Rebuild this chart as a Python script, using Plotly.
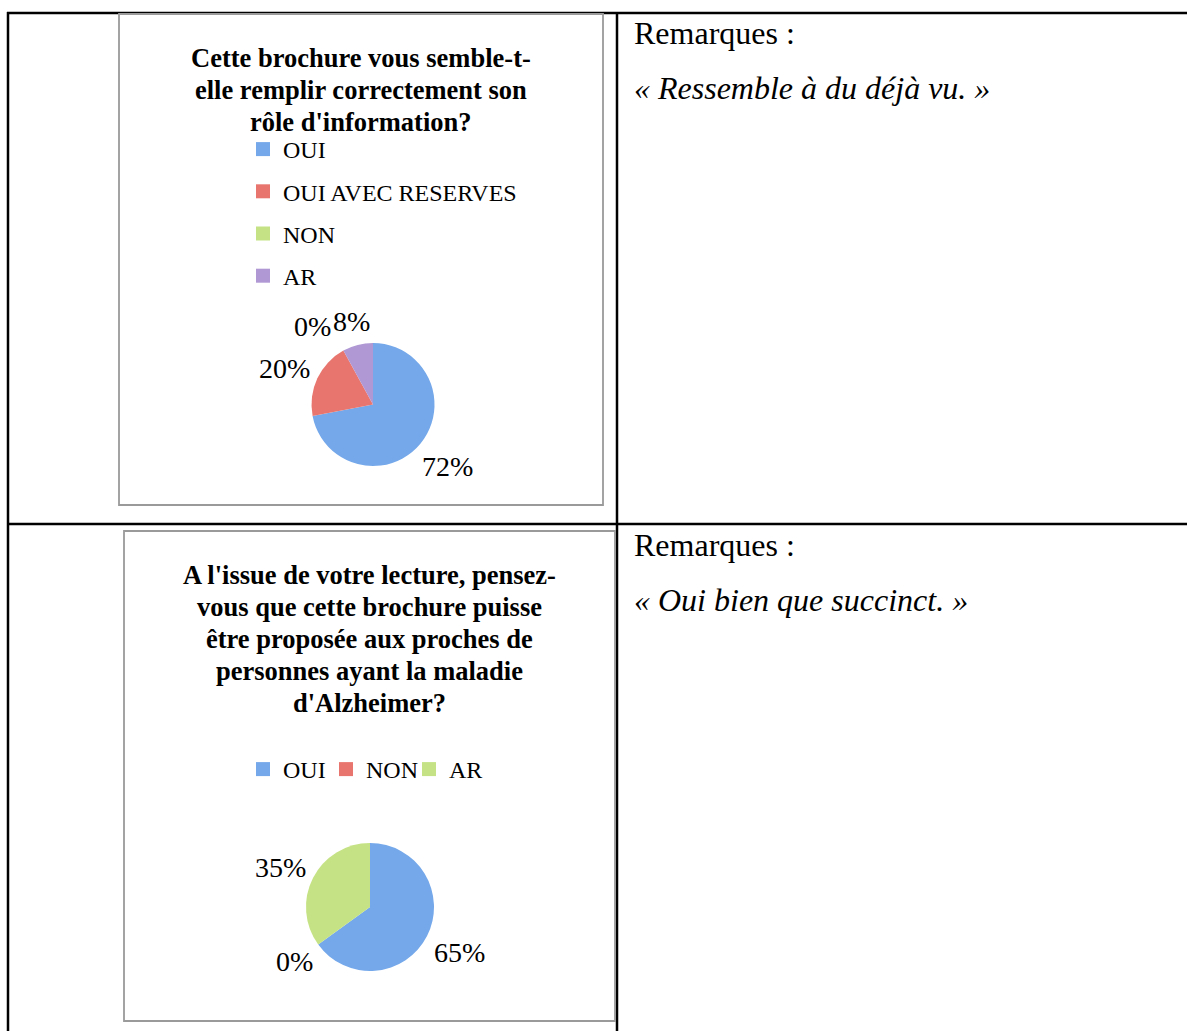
import math
import plotly.graph_objects as go

W, H = 1187, 1031

# ---- data ----
title1_lines = ["Cette brochure vous semble-t-", "elle remplir correctement son", "rôle d'information?"]
labels1 = ["OUI", "OUI AVEC RESERVES", "NON", "AR"]
values1 = [72, 20, 0, 8]

title2_lines = ["A l'issue de votre lecture, pensez-", "vous que cette brochure puisse",
                "être proposée aux proches de", "personnes ayant la maladie", "d'Alzheimer?"]
labels2 = ["OUI", "NON", "AR"]
values2 = [65, 0, 35]

remark_head = "Remarques :"
remark1 = "« Ressemble à du déjà vu. »"
remark2 = "« Oui bien que succinct. »"

palette = ["#74a8ea", "#e8766e", "#c5e384", "#af98d4"]

SERIF = "Liberation Serif"
LBL_SIZE = 28


def px(x):
    return x / W


def py(y):
    return 1 - y / H


def pie_label_annotations(cx, cy, r, values, size, pad=7):
    """Outside percentage labels placed at each slice's mid-angle (clockwise from 12 o'clock)."""
    total = float(sum(values))
    cum = 0.0
    items = []
    for v in values:
        mid = (cum + v / 2.0) / total * 2 * math.pi
        cum += v
        s, c = math.sin(mid), math.cos(mid)
        txt = "%d%%" % round(100 * v / total)
        hw = 0.31 * size * len(txt)
        hh = 0.48 * size
        d = r + pad + abs(s) * hw + abs(c) * hh
        # labels on the left side sit slightly below the radial line
        yoff = 0.45 * hh if s < -0.5 and c > 0 else 0
        items.append(dict(txt=txt, x=cx + d * s, y=cy - d * c + yoff, hw=hw, hh=hh))
    for i in range(len(items)):
        for j in range(i + 1, len(items)):
            a, b = items[i], items[j]
            if abs(a["x"] - b["x"]) < a["hw"] + b["hw"] and abs(a["y"] - b["y"]) < a["hh"] + b["hh"]:
                if a["x"] <= b["x"]:
                    a["x"] = b["x"] - a["hw"] - b["hw"] - 4
                else:
                    a["x"] = b["x"] + a["hw"] + b["hw"] + 4
    return [dict(text=it["txt"], x=px(it["x"]), y=py(it["y"]), xref="paper", yref="paper",
                 xanchor="center", yanchor="middle", showarrow=False,
                 font=dict(family=SERIF, size=size, color="#000")) for it in items]


fig = go.Figure()

c1x, c1y, r1 = 373, 404.5, 61.5
fig.add_trace(go.Pie(
    labels=labels1, values=values1, sort=False, direction="clockwise", rotation=0,
    marker=dict(colors=palette[:4], line=dict(width=0)),
    textinfo="none", showlegend=False, hoverinfo="label+percent",
    domain=dict(x=[px(c1x - r1), px(c1x + r1)], y=[py(c1y + r1), py(c1y - r1)]),
))

c2x, c2y, r2 = 370, 907, 64
fig.add_trace(go.Pie(
    labels=labels2, values=values2, sort=False, direction="clockwise", rotation=0,
    marker=dict(colors=palette[:3], line=dict(width=0)),
    textinfo="none", showlegend=False, hoverinfo="label+percent",
    domain=dict(x=[px(c2x - r2), px(c2x + r2)], y=[py(c2y + r2), py(c2y - r2)]),
))

for i, lab in enumerate(labels1):
    fig.add_trace(go.Scatter(x=[None], y=[None], mode="markers", name=lab,
                             marker=dict(symbol="square", size=14, color=palette[i]),
                             legend="legend", legendgroup="a" + lab, showlegend=True))
for i, lab in enumerate(labels2):
    fig.add_trace(go.Scatter(x=[None], y=[None], mode="markers", name=lab,
                             marker=dict(symbol="square", size=14, color=palette[i]),
                             legend="legend2", legendgroup="b" + lab, showlegend=True))

shapes = []
tl = dict(color="#000", width=2.5)
shapes.append(dict(type="line", xref="paper", yref="paper", x0=px(7), x1=px(W + 5), y0=py(13), y1=py(13), line=tl))
shapes.append(dict(type="line", xref="paper", yref="paper", x0=px(7), x1=px(W + 5), y0=py(524), y1=py(524), line=tl))
shapes.append(dict(type="line", xref="paper", yref="paper", x0=px(8), x1=px(8), y0=py(12), y1=py(H + 5), line=tl))
shapes.append(dict(type="line", xref="paper", yref="paper", x0=px(617), x1=px(617), y0=py(12), y1=py(H + 5), line=tl))
fl = dict(color="#9a9a9a", width=1.8)
shapes.append(dict(type="rect", xref="paper", yref="paper", x0=px(119), x1=px(603), y0=py(505), y1=py(14), line=fl))
shapes.append(dict(type="rect", xref="paper", yref="paper", x0=px(124), x1=px(615), y0=py(1021), y1=py(531), line=fl))

ann = []
for i, t in enumerate(title1_lines):
    ann.append(dict(text="<b>%s</b>" % t, x=px(361), y=py(58 + 32 * i), xref="paper", yref="paper",
                    xanchor="center", yanchor="middle", showarrow=False,
                    font=dict(family=SERIF, size=26.5, color="#000")))
for i, t in enumerate(title2_lines):
    ann.append(dict(text="<b>%s</b>" % t, x=px(369), y=py(575 + 32 * i), xref="paper", yref="paper",
                    xanchor="center", yanchor="middle", showarrow=False,
                    font=dict(family=SERIF, size=26.5, color="#000")))
for yy, t in [(33, remark_head), (545, remark_head)]:
    ann.append(dict(text=t, x=px(632), y=py(yy), xref="paper", yref="paper", xanchor="left",
                    yanchor="middle", showarrow=False, font=dict(family=SERIF, size=32, color="#000")))
for yy, t in [(88, remark1), (600, remark2)]:
    ann.append(dict(text="<i>%s</i>" % t, x=px(632), y=py(yy), xref="paper", yref="paper", xanchor="left",
                    yanchor="middle", showarrow=False, font=dict(family=SERIF, size=32, color="#000")))

ann += pie_label_annotations(c1x, c1y, r1, values1, LBL_SIZE)
ann += pie_label_annotations(c2x, c2y, r2, values2, LBL_SIZE)

fig.update_layout(
    width=W, height=H, margin=dict(l=0, r=0, t=0, b=0),
    paper_bgcolor="white", plot_bgcolor="white",
    xaxis=dict(visible=False), yaxis=dict(visible=False),
    shapes=shapes, annotations=ann,
    legend=dict(x=px(243), y=py(127), xanchor="left", yanchor="top", orientation="v",
                font=dict(family=SERIF, size=24, color="#000"), tracegroupgap=8,
                itemwidth=30, bgcolor="rgba(0,0,0,0)"),
    legend2=dict(x=px(243), y=py(747), xanchor="left", yanchor="top", orientation="h",
                 font=dict(family=SERIF, size=24, color="#000"), entrywidth=38,
                 itemwidth=30, bgcolor="rgba(0,0,0,0)"),
)

fig.write_html("out.html", post_script="document.body.style.margin='0';",
               config={"displayModeBar": False})
